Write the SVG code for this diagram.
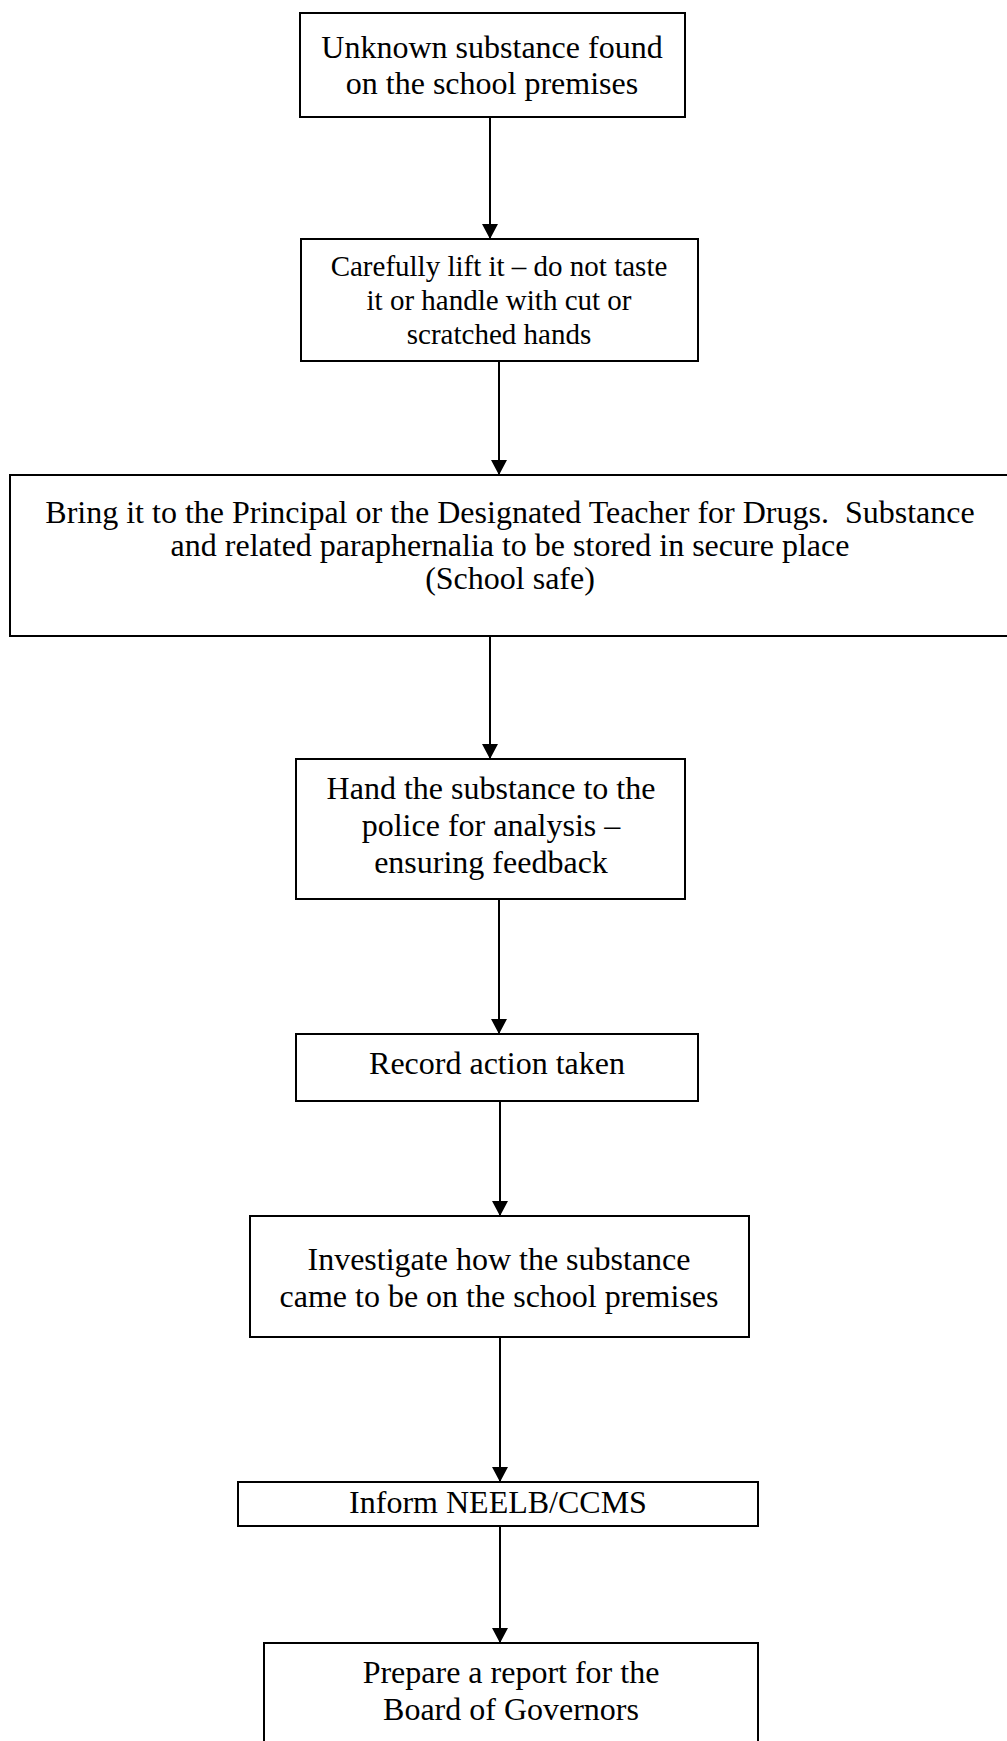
<svg xmlns="http://www.w3.org/2000/svg" width="1007" height="1741" viewBox="0 0 1007 1741">
<style>
.box{fill:#fff;stroke:#000;stroke-width:2}
.t{font-family:"Liberation Serif","Times New Roman",serif;font-size:32px;fill:#000;text-anchor:middle}
.s{font-size:29px}
.c{stroke:#000;stroke-width:2;fill:none;marker-end:url(#ah)}
</style>
<defs>
<marker id="ah" markerUnits="userSpaceOnUse" markerWidth="16" markerHeight="16" viewBox="0 0 16 16" refX="15" refY="8" orient="auto">
<path d="M0,0 L15,8 L0,16 Z" fill="#000"/>
</marker>
</defs>
<rect width="1007" height="1741" fill="#fff"/>
<g id="connectors">
<line class="c" x1="490" y1="117" x2="490" y2="239"/>
<line class="c" x1="499" y1="361" x2="499" y2="475"/>
<line class="c" x1="490" y1="636" x2="490" y2="759"/>
<line class="c" x1="499" y1="899" x2="499" y2="1034"/>
<line class="c" x1="500" y1="1101" x2="500" y2="1216"/>
<line class="c" x1="500" y1="1337" x2="500" y2="1482"/>
<line class="c" x1="500" y1="1526" x2="500" y2="1643"/>
</g>
<g id="n1">
<rect class="box" x="300" y="13" width="385" height="104"/>
<text class="t" x="492" y="58">Unknown substance found</text>
<text class="t" x="492" y="94">on the school premises</text>
</g>
<g id="n2">
<rect class="box" x="301" y="239" width="397" height="122"/>
<text class="t s" x="499" y="276">Carefully lift it – do not taste</text>
<text class="t s" x="499" y="310">it or handle with cut or</text>
<text class="t s" x="499" y="344">scratched hands</text>
</g>
<g id="n3">
<rect class="box" x="10" y="475" width="1002" height="161"/>
<text class="t" x="510" y="523" xml:space="preserve">Bring it to the Principal or the Designated Teacher for Drugs.  Substance</text>
<text class="t" x="510" y="556">and related paraphernalia to be stored in secure place</text>
<text class="t" x="510" y="589">(School safe)</text>
</g>
<g id="n4">
<rect class="box" x="296" y="759" width="389" height="140"/>
<text class="t" x="491" y="799">Hand the substance to the</text>
<text class="t" x="491" y="836">police for analysis –</text>
<text class="t" x="491" y="873">ensuring feedback</text>
</g>
<g id="n5">
<rect class="box" x="296" y="1034" width="402" height="67"/>
<text class="t" x="497" y="1074">Record action taken</text>
</g>
<g id="n6">
<rect class="box" x="250" y="1216" width="499" height="121"/>
<text class="t" x="499" y="1270">Investigate how the substance</text>
<text class="t" x="499" y="1307">came to be on the school premises</text>
</g>
<g id="n7">
<rect class="box" x="238" y="1482" width="520" height="44"/>
<text class="t" x="498" y="1513">Inform NEELB/CCMS</text>
</g>
<g id="n8">
<rect class="box" x="264" y="1643" width="494" height="110"/>
<text class="t" x="511" y="1683">Prepare a report for the</text>
<text class="t" x="511" y="1720">Board of Governors</text>
</g>
</svg>
